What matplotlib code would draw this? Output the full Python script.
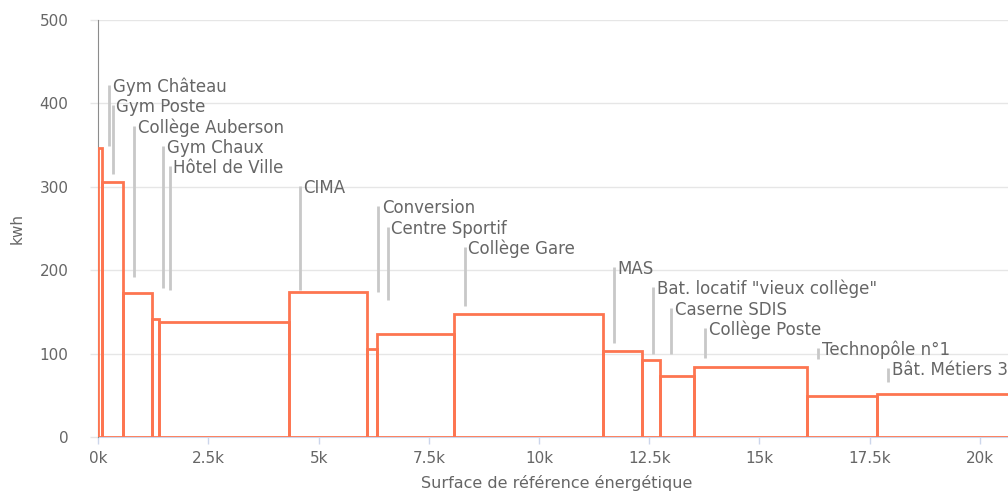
import numpy as np
import matplotlib
matplotlib.use('Agg')
import matplotlib.pyplot as plt
from matplotlib.ticker import FuncFormatter
from matplotlib.transforms import offset_copy

# buildings, surface (m2) and consumption (kwh)
names = ['Gym Château', 'Gym Poste', 'Collège Auberson', 'Gym Chaux', 'Hôtel de Ville',
         'CIMA', 'Conversion', 'Centre Sportif', 'Collège Gare', 'MAS',
         'Bat. locatif "vieux collège"', 'Caserne SDIS', 'Collège Poste',
         'Technopôle n°1', 'Bât. Métiers 3']
surface = [73, 497, 655, 152, 2950, 1773, 220, 1740, 3400, 880, 410, 770, 2570, 1590, 3900]
kwh = [346, 306, 173, 141.5, 138, 174, 105.5, 124, 147.5, 103.5, 92.7, 73.5, 83.6, 49.2, 51.6]
# lower end of each label's leader line (kwh)
leader_end = [349, 315, 192, 179, 176, 176, 174, 164, 157, 113, 100, 100, 95, 94, 66]

xticks = [0, 2500, 5000, 7500, 10000, 12500, 15000, 17500, 20000]
yticks = [0, 100, 200, 300, 400, 500]

bar_color = '#fd7550'
text_color = '#666666'

fig = plt.figure(figsize=(10.08, 4.91), dpi=100)
ax = fig.add_axes([98.3 / 1008, 54 / 491, 1 - 98.3 / 1008, 417 / 491])

left = np.concatenate([[0], np.cumsum(surface)[:-1]])
ax.bar(left, kwh, width=surface, align='edge', fill=False,
       edgecolor=bar_color, linewidth=2, zorder=3)

# labels with grey leader lines, stepped down one row each
line_tr = offset_copy(ax.transData, fig=fig, x=11, y=0, units='dots')
text_tr = offset_copy(ax.transData, fig=fig, x=14.5, y=-7, units='dots')
for i, name in enumerate(names):
    top = 422 - 24.25 * i
    ax.plot([left[i], left[i]], [leader_end[i], top], color='#c8c8c8',
            linewidth=2, transform=line_tr, zorder=2, solid_capstyle='butt')
    ax.text(left[i], top, name, transform=text_tr, ha='left', va='baseline',
            fontsize=12, color=text_color, zorder=4)

ax.set_xlim(0, 20642)
ax.set_ylim(0, 500)
ax.set_xticks(xticks)
ax.set_yticks(yticks)
ax.xaxis.set_major_formatter(FuncFormatter(lambda v, p: '%gk' % (v / 1000)))

ax.grid(axis='y', color='#e6e6e6', linewidth=1, zorder=0)
ax.set_axisbelow(True)
for s in ['top', 'right']:
    ax.spines[s].set_visible(False)
ax.spines['left'].set_color('#8c8c8c')
ax.spines['bottom'].set_color('#ccd6eb')
ax.spines['bottom'].set_zorder(1)

ax.tick_params(axis='y', length=5.5, width=1, color='#e6e6e6', pad=16,
               labelsize=11, labelcolor=text_color)
ax.tick_params(axis='x', length=5, width=1, color='#ccd6eb', pad=5,
               labelsize=11, labelcolor=text_color)

fig.text(557 / 1008, 1 - 483 / 491, 'Surface de référence énergétique',
         ha='center', va='center', fontsize=11.5, color=text_color)
fig.text(17.5 / 1008, 1 - 228 / 491, 'kwh', rotation=90,
         ha='center', va='center', fontsize=11, color=text_color)

fig.savefig('out.png', dpi=100)
